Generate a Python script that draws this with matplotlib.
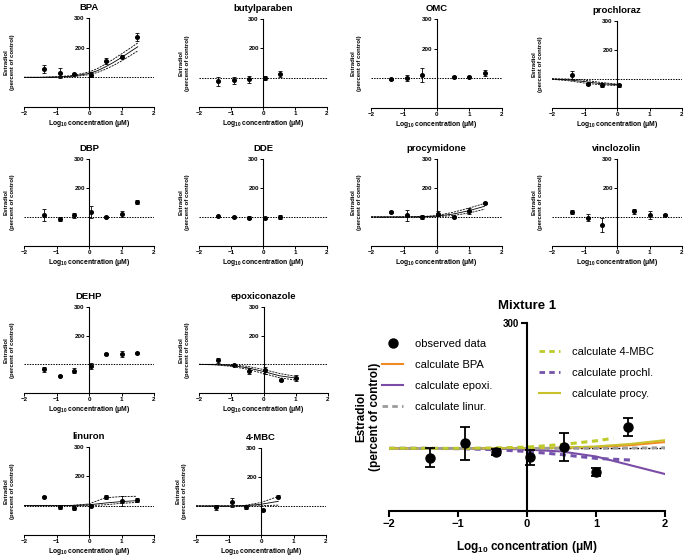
import numpy as np
import matplotlib
matplotlib.use('Agg')
import matplotlib.pyplot as plt
from matplotlib.lines import Line2D

plt.rcParams['font.family'] = ['Liberation Sans', 'DejaVu Sans']
plt.rcParams['font.weight'] = 'bold'
plt.rcParams['axes.labelweight'] = 'bold'
plt.rcParams['axes.titleweight'] = 'bold'
plt.rcParams['mathtext.fontset'] = 'custom'
plt.rcParams['mathtext.rm'] = 'Liberation Sans:bold'
plt.rcParams['mathtext.bf'] = 'Liberation Sans:bold'
plt.rcParams['mathtext.default'] = 'bf'

W, H = 689, 560
XLAB = 'Log$_{10}$ concentration (\u03bcM)'
YLAB = 'Estradiol\n(percent of control)'

# ---- single compounds: observed data (log10 uM, % of control) ----
log_conc = [-1.4, -0.9, -0.45, 0.05, 0.53, 1.0, 1.47]

bpa_y = [128, 115, 111, 109, 155, 170, 237]
bpa_err = [15, 17, 3, 9, 9, 4, 14]
butyl_x = [-1.4, -0.9, -0.45, 0.05, 0.53]
butyl_y = [87, 91, 94, 99, 112]
butyl_err = [15, 12, 12, 7, 11]
omc_x = [-1.4, -0.9, -0.45, 0.53, 1.0, 1.47]
omc_y = [98, 101, 111, 104, 106, 118]
omc_err = [3, 10, 25, 3, 3, 9]
prochl_x = [-1.4, -0.9, -0.45, 0.05]
prochl_y = [114, 83, 78, 79]
prochl_err = [14, 3, 7, 5]
dbp_y = [107, 93, 106, 117, 99, 110, 153]
dbp_err = [21, 7, 9, 21, 3, 9, 7]
dde_x = [-1.4, -0.9, -0.45, 0.05, 0.53]
dde_y = [102, 100, 98, 97, 100]
dde_err = [3, 3, 6, 3, 8]
procy_y = [116, 106, 99, 111, 100, 121, 148]
procy_err = [3, 19, 7, 9, 3, 9, 3]
vinc_x = [-1.4, -0.9, -0.45, 0.53, 1.0, 1.47]
vinc_y = [117, 97, 72, 120, 107, 107]
vinc_err = [7, 12, 25, 8, 15, 3]
dehp_y = [83, 61, 78, 94, 136, 136, 140]
dehp_err = [9, 3, 9, 10, 3, 9, 3]
epoxi_x = [-1.4, -0.9, -0.45, 0.05, 0.53, 1.0]
epoxi_y = [114, 97, 77, 79, 46, 53]
epoxi_err = [8, 3, 10, 12, 3, 11]
linur_y = [130, 95, 92, 100, 130, 116, 120]
linur_err = [3, 5, 7, 3, 8, 18, 7]
mbc_x = [-1.4, -0.9, -0.45, 0.05, 0.53]
mbc_y = [95, 113, 98, 85, 132]
mbc_err = [8, 16, 7, 3, 6]

# ---- single compounds: fitted curves (mid, upper, lower) ----
bpa_fx = [-2, -1.5, -1, -0.5, 0, 0.25, 0.5, 0.75, 1.0, 1.25, 1.5]
bpa_fit = [100, 100, 101, 104, 113, 122, 135, 150, 167, 185, 203]
bpa_hi = [100, 100, 102, 106, 118, 129, 144, 161, 179, 197, 216]
bpa_lo = [100, 100, 100, 102, 109, 116, 127, 140, 155, 172, 189]
prochl_fx = [-2, -1.5, -1, -0.5, 0.05]
prochl_fit = [100, 97, 91, 84, 80]
prochl_hi = [101, 100, 96, 88, 82]
prochl_lo = [99, 94, 86, 80, 77]
procy_fx = [-2, -1, -0.5, 0, 0.5, 1.0, 1.47]
procy_fit = [100, 100, 101, 103, 110, 122, 137]
procy_hi = [100, 100, 101, 105, 116, 131, 147]
procy_lo = [100, 100, 100, 101, 105, 114, 127]
epoxi_fx = [-2, -1.5, -1, -0.5, 0, 0.5, 1.0]
epoxi_fit = [100, 99, 96, 88, 75, 60, 52]
epoxi_hi = [100, 100, 98, 93, 82, 68, 58]
epoxi_lo = [100, 98, 93, 83, 68, 53, 45]
linur_fx = [-2, -1, -0.5, 0, 0.5, 1.0, 1.47]
linur_fit = [100, 100, 101, 103, 109, 114, 117]
linur_hi = [100, 100, 101, 106, 127, 131, 132]
linur_lo = [100, 100, 100, 100, 103, 108, 111]
mbc_fx = [-2, -1, -0.5, 0, 0.53]
mbc_fit = [100, 100, 101, 106, 116]
mbc_hi = [100, 100, 102, 112, 133]
mbc_lo = [100, 100, 100, 101, 103]

# ---- Mixture 1 ----
mix_y = [85, 108, 94, 86, 102, 62, 134]
mix_err = [15, 26, 5, 12, 23, 6, 15]
mix_fx = [-2, -1.5, -1, -0.5, 0, 0.5, 1.0, 1.5, 2.0]
calc_bpa = [100, 100, 100, 100, 100, 101, 102, 105, 110]
calc_epoxi = [100, 100, 100, 99.5, 98, 95, 87, 73, 59]
calc_linur = [100, 100, 100, 100, 100, 100, 100, 100.5, 101]
calc_procy = [100, 100, 100, 100, 100, 101, 103, 107, 113]
calc_mbc_x = [-2, -1.5, -1, -0.5, 0, 0.5, 1.0, 1.25]
calc_mbc = [100, 100, 100, 100.5, 102, 106, 112, 116]
calc_prochl_x = [-2, -1.5, -1, -0.5, 0, 0.5, 1.0, 1.55]
calc_prochl = [100, 100, 99.5, 98, 95, 90, 84, 81]


def box(x0, y0, x1, y1):
    return [x0 / W, 1 - y1 / H, (x1 - x0) / W, (y1 - y0) / H]


def small_panel(rect, title, x, y, err, fit=None):
    ax = fig.add_axes(box(*rect))
    ax.set_xlim(-2, 2)
    ax.set_ylim(0, 300)
    ax.spines['left'].set_position(('data', 0))
    ax.spines[['top', 'right']].set_visible(False)
    for s in ax.spines.values():
        s.set_linewidth(0.8)
    ax.set_xticks([-2, -1, 0, 1, 2])
    ax.set_yticks([200, 300])
    ax.tick_params(labelsize=4.5, width=0.7, length=2, pad=1)
    ax.axhline(100, color='k', ls=(0, (1.5, 1.2)), lw=0.7, zorder=1)
    if fit is not None:
        fx, mid, hi, lo = fit
        ax.plot(fx, mid, color='k', lw=0.6)
        ax.plot(fx, hi, color='k', lw=0.6, ls=(0, (2.5, 1.2)))
        ax.plot(fx, lo, color='k', lw=0.6, ls=(0, (2.5, 1.2)))
    ax.errorbar(x, y, yerr=err, fmt='o', color='k', ms=2.6, capsize=1.5,
                elinewidth=0.6, capthick=0.6, zorder=3)
    ax.set_title(title, fontsize=6.8, pad=5.5)
    ax.set_xlabel(XLAB, fontsize=4.9, labelpad=1)
    ax.set_ylabel(YLAB, fontsize=4.3, linespacing=1.3)
    ax.yaxis.set_label_coords(-0.07, 0.5)
    return ax


fig = plt.figure(figsize=(W / 100, H / 100), dpi=100)

small_panel((24, 18, 154, 107), 'BPA', log_conc, bpa_y, bpa_err,
            (bpa_fx, bpa_fit, bpa_hi, bpa_lo))
small_panel((199, 19, 327, 107), 'butylparaben', butyl_x, butyl_y, butyl_err)
small_panel((371, 19, 502, 108), 'OMC', omc_x, omc_y, omc_err)
small_panel((552, 21, 682, 108), 'prochloraz', prochl_x, prochl_y, prochl_err,
            (prochl_fx, prochl_fit, prochl_hi, prochl_lo))
small_panel((24, 159, 154, 246), 'DBP', log_conc, dbp_y, dbp_err)
small_panel((199, 159, 327, 246), 'DDE', dde_x, dde_y, dde_err)
small_panel((371, 159, 502, 246), 'procymidone', log_conc, procy_y, procy_err,
            (procy_fx, procy_fit, procy_hi, procy_lo))
small_panel((552, 159, 682, 246), 'vinclozolin', vinc_x, vinc_y, vinc_err)
small_panel((24, 307, 154, 393), 'DEHP', log_conc, dehp_y, dehp_err)
small_panel((199, 307, 328, 393), 'epoxiconazole', epoxi_x, epoxi_y, epoxi_err,
            (epoxi_fx, epoxi_fit, epoxi_hi, epoxi_lo))
small_panel((24, 447, 154, 535), 'linuron', log_conc, linur_y, linur_err,
            (linur_fx, linur_fit, linur_hi, linur_lo))
small_panel((196, 448, 326, 535), '4-MBC', mbc_x, mbc_y, mbc_err,
            (mbc_fx, mbc_fit, mbc_hi, mbc_lo))

# ---- big mixture panel ----
ax = fig.add_axes(box(389, 323, 665, 511))
ax.set_xlim(-2, 2)
ax.set_ylim(0, 300)
ax.spines['left'].set_position(('data', 0))
ax.spines[['top', 'right']].set_visible(False)
for s in ax.spines.values():
    s.set_linewidth(1.5)
ax.set_xticks([-2, -1, 0, 1, 2])
ax.set_yticks([300])
ax.tick_params(labelsize=8, width=1.5, length=4, pad=2)
ax.tick_params(axis='y', labelsize=7)

c_bpa = '#F08A24'
c_epoxi = '#7A4CA6'
c_linur = '#9B9B9B'
c_mbc = '#BDCB2B'
c_prochl = '#7453AA'
c_procy = '#C9C12A'

ax.axhline(100, color='k', ls=(0, (1.5, 1.2)), lw=1, zorder=1)
ax.plot(mix_fx, calc_bpa, color=c_bpa, lw=1.5)
ax.plot(mix_fx, calc_epoxi, color=c_epoxi, lw=1.5)
ax.plot(mix_fx, calc_procy, color=c_procy, lw=1.5)
ax.plot(mix_fx, calc_linur, color=c_linur, lw=2, ls=(0, (2, 1.5)))
ax.plot(calc_prochl_x, calc_prochl, color=c_prochl, lw=2.2, ls=(0, (2, 1.5)))
ax.plot(calc_mbc_x, calc_mbc, color=c_mbc, lw=2.2, ls=(0, (2, 1.5)))
ax.errorbar(log_conc, mix_y, yerr=mix_err, fmt='o', color='k', ms=6.5,
            capsize=3.5, elinewidth=1.3, capthick=1.3, zorder=4)
ax.set_title('Mixture 1', fontsize=9.5, pad=10)
ax.set_xlabel(XLAB, fontsize=8.5, labelpad=7)
ax.set_ylabel(YLAB, fontsize=8.5, linespacing=1.2)
ax.yaxis.set_label_coords(-0.03, 0.5)

dash = (0, (2, 1.5))
h_obs = Line2D([], [], color='k', marker='o', ls='none', ms=6.5)
h_bpa = Line2D([], [], color=c_bpa, lw=1.5)
h_epoxi = Line2D([], [], color=c_epoxi, lw=1.5)
h_linur = Line2D([], [], color=c_linur, lw=2, ls=dash)
h_mbc = Line2D([], [], color=c_mbc, lw=2, ls=dash)
h_prochl = Line2D([], [], color=c_prochl, lw=2, ls=dash)
h_procy = Line2D([], [], color=c_procy, lw=1.5)

leg_kw = dict(frameon=False, prop={'size': 8, 'weight': 'normal'},
              handlelength=1.9, handletextpad=1.1, labelspacing=1.0,
              borderpad=0, borderaxespad=0, loc='upper left',
              bbox_transform=fig.transFigure)
leg1 = ax.legend([h_obs, h_bpa, h_epoxi, h_linur],
                 ['observed data', 'calculate BPA', 'calculate epoxi.',
                  'calculate linur.'],
                 bbox_to_anchor=(382 / W, 1 - 339 / H), **leg_kw)
ax.add_artist(leg1)
ax.legend([h_mbc, h_prochl, h_procy],
          ['calculate 4-MBC', 'calculate prochl.', 'calculate procy.'],
          bbox_to_anchor=(539 / W, 1 - 347 / H), **leg_kw)

fig.savefig('out.png', dpi=100)
